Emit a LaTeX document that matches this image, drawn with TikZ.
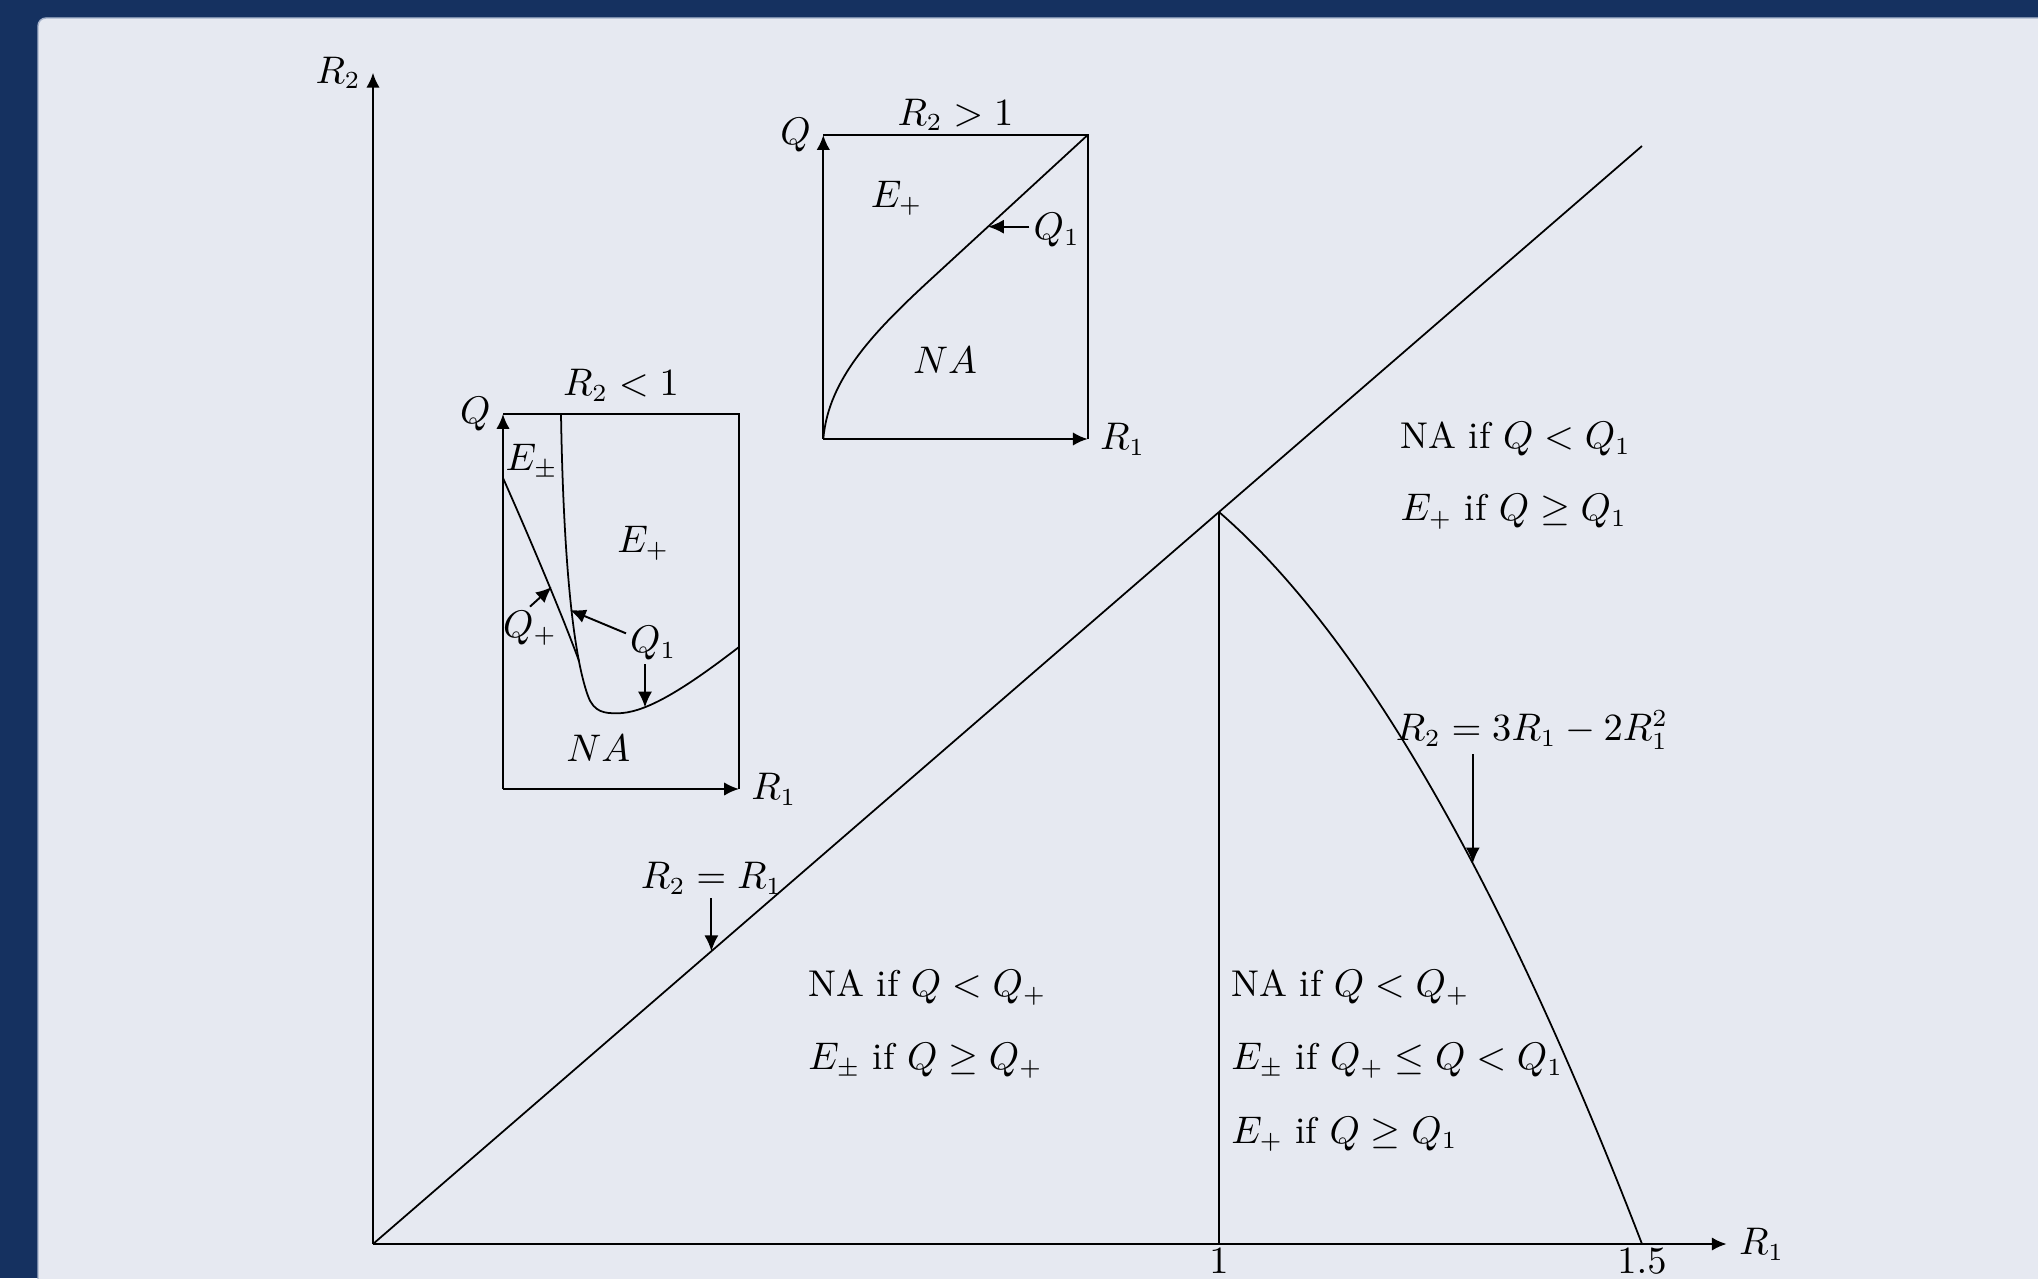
\documentclass[tikz,border=0pt]{standalone}
\usepackage{amsmath,amssymb}
\usepackage{xcolor}
\usepackage{tikz}
\usetikzlibrary{arrows.meta,positioning,calc}
\definecolor{frameblue}{RGB}{21,49,96}
\definecolor{panelgray}{RGB}{230,233,241}
\definecolor{paneledge}{RGB}{165,178,202}
\tikzset{
  axis arr/.style    = {-{Latex[length=4.2pt,width=3.8pt]}, line width=0.6pt},
  arr/.style         = {-{Latex[length=4.5pt,width=4pt]}, line width=0.55pt},
  curve/.style       = {line width=0.5pt},
  region text/.style = {anchor=west},
  small lbl/.style   = {inner sep=1pt},
}

\begin{document}
\begin{tikzpicture}[font=\fontsize{10.6}{13}\selectfont]
  \useasboundingbox (0,0) rectangle (20.38,12.78);
  \fill[frameblue] (0,0) rectangle (20.38,12.78);
  \filldraw[fill=panelgray, draw=paneledge, line width=0.4pt, rounded corners=0.08cm]
    (0.38,-0.3) rectangle (20.7,12.60);

  % main diagram in (R1,R2)
  \begin{scope}[shift={(3.73,0.34)}, x=8.46cm, y=7.32cm]
    \coordinate (O)       at (0,0);
    \coordinate (xend)    at (1.6,0);
    \coordinate (yend)    at (0,1.6);
    \coordinate (V)       at (1,1);
    \coordinate (diagend) at (1.5,1.5);
    \coordinate (P)       at (1.5,0);

    \draw[axis arr] (O) -- (xend);
    \draw[axis arr] (O) -- (yend);
    \node[right] (r1lbl) at (xend) {$R_1$};
    \node[left] (r2lbl) at (yend) {$R_2$};
    \node[below, inner sep=1pt] (tick1)  at (V |- O) {$1$};
    \node[below, inner sep=1pt] (tick15) at (P) {$1.5$};

    \draw[curve] (O) -- (diagend);
    \draw[curve] (V) -- (V |- O);
    \draw[curve] plot[domain=1:1.5, samples=60] (\x, {3*\x-2*\x*\x});

    \node[small lbl] (lbldiag) at (0.4,0.5) {$R_2=R_1$};
    \coordinate (tipdiag) at (0.4,0.4);
    \draw[arr] (tipdiag |- lbldiag.south) -- (tipdiag);

    \node[small lbl] (lblpar) at (1.37,0.702) {$R_2=3R_1-2R_1^2$};
    \coordinate (tippar) at (1.3,{3*1.3-2*1.3*1.3});
    \draw[arr] (tippar |- lblpar.south) -- (tippar);

    \node[region text] (tr1) at (1.2,1.1)  {NA if $Q<Q_1$};
    \node[region text] (tr2) at (1.2,1.0)  {$E_+$ if $Q\geq Q_1$};
    \node[region text] (lf1) at (0.5,0.35) {NA if $Q<Q_+$};
    \node[region text] (lf2) at (0.5,0.25) {$E_\pm$ if $Q\geq Q_+$};
    \node[region text] (md1) at (1.0,0.35) {NA if $Q<Q_+$};
    \node[region text] (md2) at (1.0,0.25) {$E_\pm$ if $Q_+\leq Q<Q_1$};
    \node[region text] (md3) at (1.0,0.15) {$E_+$ if $Q\geq Q_1$};
  \end{scope}

  % inset for R2 < 1
  \begin{scope}[shift={(5.03,4.89)}]
    \coordinate (a0) at (0,0);
    \coordinate (aq) at (0,3.75);
    \coordinate (ar) at (2.36,0);
    \coordinate (ac) at (2.36,3.75);
    \draw[axis arr] (a0) -- (aq);
    \draw[axis arr] (a0) -- (ar);
    \draw[curve] (aq) -- (ac) -- (ar);
    \node[left]  (aqlbl) at (aq) {$Q$};
    \node[right] (arlbl) at (ar) {$R_1$};
    \node[above] (atitle) at ($(aq)!0.5!(ac)$) {$R_2<1$};

    \coordinate (q1top)  at (0.58,3.75);
    \coordinate (merge)  at (0.76,1.28);
    \coordinate (qpleft) at (0,3.11);
    \draw[curve] (q1top) .. controls (0.60,2.5) and (0.68,1.4) .. (0.85,0.93)
      .. controls (0.91,0.764) and (1.02,0.757) .. (1.14,0.757)
      .. controls (1.4,0.757) and (1.75,0.95) .. (2.36,1.42);
    \draw[curve] (qpleft) .. controls (0.25,2.55) and (0.6,1.72) .. (merge);

    \node (aepm) at (0.287,3.273) {$E_\pm$};
    \node (aep)  at (1.403,2.457) {$E_+$};
    \node (ana)  at (0.953,0.407) {$NA$};
    \node[small lbl] (aqp) at (0.27,1.607) {$Q_+$};
    \node[small lbl] (aq1) at (1.503,1.457) {$Q_1$};
    \coordinate (qptip)  at (0.487,2.02);
    \coordinate (q1tipa) at (0.67,1.79);
    \coordinate (q1tipb) at (1.42,0.815);
    \draw[arr] (aqp.north) -- (qptip);
    \draw[arr] (aq1.160) -- (q1tipa);
    \draw[arr] (q1tipb |- aq1.south) -- (q1tipb);
  \end{scope}

  % inset for R2 > 1
  \begin{scope}[shift={(8.233,8.39)}]
    \coordinate (b0) at (0,0);
    \coordinate (bq) at (0,3.04);
    \coordinate (br) at (2.644,0);
    \coordinate (bc) at (2.644,3.04);
    \draw[axis arr] (b0) -- (bq);
    \draw[axis arr] (b0) -- (br);
    \draw[curve] (bq) -- (bc) -- (br);
    \node[left]  (bqlbl) at (bq) {$Q$};
    \node[right] (brlbl) at (br) {$R_1$};
    \node[above, inner sep=1pt] (btitle) at ($(bq)!0.5!(bc)$) {$R_2>1$};

    \draw[curve] (b0) .. controls (0.05,0.6) and (0.5,1.07) .. (1.1,1.62) -- (bc);

    \node (bep) at (0.734,2.407) {$E_+$};
    \node (bna) at (1.217,0.79)  {$NA$};
    \node[small lbl] (bq1) at (2.334,2.09) {$Q_1$};
    \coordinate (bq1tip) at (1.647,2.123);
    \draw[arr] (bq1.west |- bq1tip) -- (bq1tip);
  \end{scope}
\end{tikzpicture}
\end{document}
